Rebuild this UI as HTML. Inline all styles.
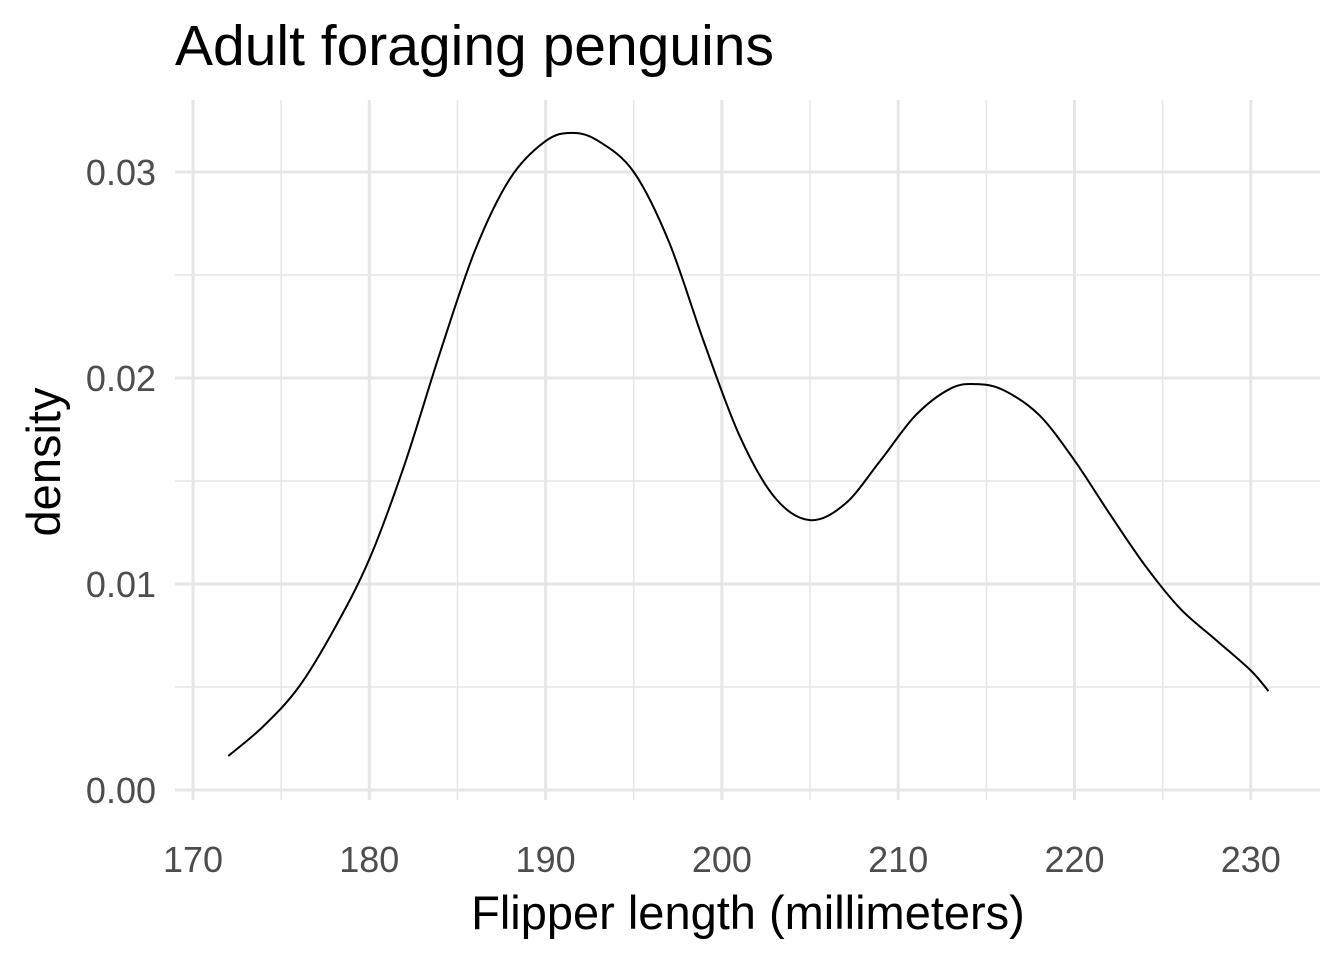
<!DOCTYPE html>
<html><head><meta charset="utf-8"><style>
body{margin:0;background:#fff;}
svg text{font-family:"Liberation Sans",sans-serif;}
</style></head><body>
<svg id="chart" width="1344" height="960">
<text x="175" y="65" font-size="57" fill="#000">Adult foraging penguins</text>
<g id="grid"></g>
<g id="axes"></g>
<path id="curve" fill="none" stroke="#000" stroke-width="2"></path>
<text x="748" y="929" font-size="47" text-anchor="middle" fill="#000">Flipper length (millimeters)</text>
<text transform="translate(60,462) rotate(-90)" font-size="47" text-anchor="middle" fill="#000">density</text>
</svg>
<script>
const xTicks=[170,180,190,200,210,220,230];
const yTicks=[0,0.01,0.02,0.03];
const yTickLabels=["0.00","0.01","0.02","0.03"];
const flipperX=[172,174,176,178,180,182,184,186,188,190,191.5,193,195,197,199,201,203,205,207,209,211,213,214.5,216,218,220,222,224,226,228,230,231];
const densityY=[0.00165,0.0031,0.0050,0.0078,0.0112,0.0158,0.0212,0.0262,0.0297,0.0315,0.0319,0.0315,0.0300,0.0266,0.0217,0.0172,0.0142,0.0131,0.0139,0.0160,0.0182,0.0195,0.0197,0.0194,0.0182,0.0160,0.0134,0.0109,0.0088,0.0073,0.0058,0.0048];
const sx=v=>193+(v-170)*17.63;
const sy=v=>790-v*20600;
const NS="http://www.w3.org/2000/svg";
const grid=document.getElementById('grid'), axes=document.getElementById('axes');
function line(p,x1,y1,x2,y2,w,name){const l=document.createElementNS(NS,'line');
l.setAttribute('x1',x1);l.setAttribute('y1',y1);l.setAttribute('x2',x2);l.setAttribute('y2',y2);
l.setAttribute('stroke','#e6e6e6');l.setAttribute('stroke-width',w);


p.appendChild(l);}
function text(x,y,s,anchor,name){const t=document.createElementNS(NS,'text');
t.setAttribute('x',x);t.setAttribute('y',y);t.setAttribute('font-size','36');t.setAttribute('fill','#4d4d4d');t.setAttribute('text-anchor',anchor);t.textContent=s;


axes.appendChild(t);}
const L=175,R=1320,T=100,B=800;
for(let i=0;i<xTicks.length;i++){const v=xTicks[i];
 line(grid,sx(v),T,sx(v),B,3,'x-major-gridline');
 if(i<xTicks.length-1) line(grid,sx(v+5),T,sx(v+5),B,1.5,'x-minor-gridline');
 text(sx(v),872,String(v),'middle','x-tick-label');}
for(let i=0;i<yTicks.length;i++){const v=yTicks[i];
 line(grid,L,sy(v),R,sy(v),3,'y-major-gridline');
 if(i<yTicks.length-1) line(grid,L,sy(v+0.005),R,sy(v+0.005),1.5,'y-minor-gridline');
 text(156,sy(v)+13,yTickLabels[i],'end','y-tick-label');}
const P=flipperX.map((x,i)=>[sx(x),sy(densityY[i])]);
let d='M'+P[0][0]+','+P[0][1];
for(let i=0;i<P.length-1;i++){const p0=P[Math.max(0,i-1)],p1=P[i],p2=P[i+1],p3=P[Math.min(P.length-1,i+2)];
 d+=' C'+(p1[0]+(p2[0]-p0[0])/6)+','+(p1[1]+(p2[1]-p0[1])/6)+' '+(p2[0]-(p3[0]-p1[0])/6)+','+(p2[1]-(p3[1]-p1[1])/6)+' '+p2[0]+','+p2[1];}
document.getElementById('curve').setAttribute('d',d);
</script>
</body></html>
